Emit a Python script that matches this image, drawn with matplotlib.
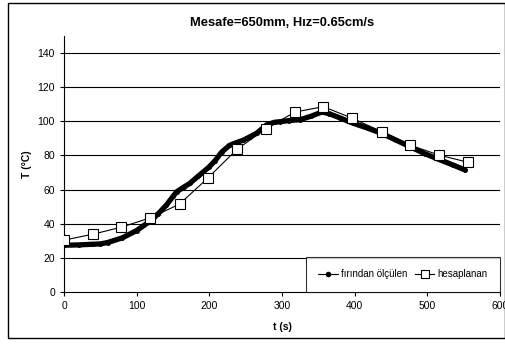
import matplotlib.pyplot as plt
from matplotlib.patches import Rectangle

plt.rcParams['font.family'] = ['Liberation Sans', 'DejaVu Sans']

# ölçülen (fırından) veriler
t_olc = [0, 20, 40, 50, 60, 80, 100, 120, 130, 141, 150, 155, 165, 173, 185, 199,
         208, 217, 228, 237, 247, 256, 265, 279, 290, 297, 310, 325, 340, 355,
         365, 380, 398, 418, 437, 457, 477, 497, 516, 535, 552]
T_olc = [27.4, 27.6, 28.0, 28.2, 29.0, 31.7, 36.0, 42.0, 46.0, 51.0, 56.0, 58.7,
         61.5, 63.6, 68.0, 73.0, 77.0, 82.0, 86.0, 87.5, 89.0, 91.0, 93.0, 98.0,
         99.5, 99.8, 100.5, 101.0, 103.0, 105.5, 104.5, 102.0, 98.9, 96.0, 93.0,
         89.0, 85.0, 81.0, 77.7, 74.5, 71.5]

# hesaplanan veriler
t_hes = [0, 40, 79, 119, 159, 198, 238, 278, 318, 357, 397, 437, 476, 516, 556]
T_hes = [30.4, 33.9, 38.0, 43.5, 51.5, 66.8, 83.6, 95.7, 105.5, 108.6, 101.8,
         94.0, 86.1, 80.3, 76.0]

fig = plt.figure(figsize=(5.06, 3.5), dpi=100)
ax = fig.add_axes([0.1265, 0.1657, 0.8615, 0.7313])

ax.plot(t_olc, T_olc, color='black', lw=3.8, marker='o', ms=2.5,
        solid_capstyle='round', solid_joinstyle='round',
        label='fırından ölçülen', zorder=3)
ax.plot(t_hes, T_hes, color='black', lw=0.8, marker='s', ms=7.5,
        mfc='white', mec='black', mew=0.8, label='hesaplanan', zorder=4)

ax.set_xlim(0, 600)
ax.set_ylim(0, 150)
ax.set_xticks(range(0, 601, 100))
ax.set_yticks(range(0, 141, 20))
for y in range(20, 141, 20):
    ax.axhline(y, color='black', lw=0.8, zorder=1)

for s in ['top', 'right']:
    ax.spines[s].set_visible(False)
ax.spines['left'].set_linewidth(0.8)
ax.spines['bottom'].set_linewidth(0.8)
ax.tick_params(labelsize=7.5, length=3, width=0.8)

ax.set_title('Mesafe=650mm, Hız=0.65cm/s', fontsize=9.3, fontweight='bold', pad=7)
ax.set_xlabel('t (s)', fontsize=7.5, fontweight='bold', labelpad=8)
ax.set_ylabel('T (°C)', fontsize=7.5, fontweight='bold')

leg = ax.legend(loc='lower right', bbox_to_anchor=(1.0, 0.0), ncol=2,
                fontsize=7, frameon=True, fancybox=False, borderaxespad=0,
                handlelength=2.0, handletextpad=0.3, columnspacing=0.8,
                borderpad=1.3)
leg.get_frame().set_edgecolor('black')
leg.get_frame().set_linewidth(0.8)
leg.legend_handles[0].set_linewidth(0.8)
leg.legend_handles[0].set_markersize(3)
leg.legend_handles[1].set_markersize(6)

fig.patches.append(Rectangle((8 / 506, 12 / 350), 497 / 506, 335 / 350,
                             transform=fig.transFigure, fill=False,
                             edgecolor='black', lw=1.0))

fig.savefig('out.png', dpi=100)
